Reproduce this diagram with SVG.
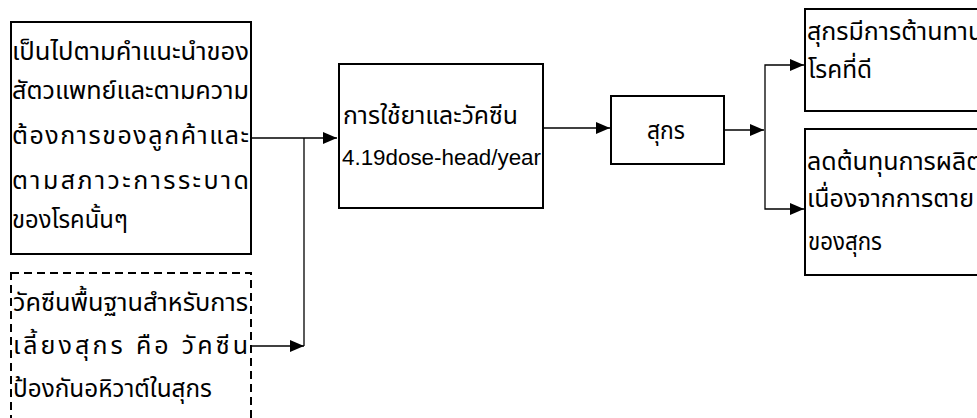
<svg xmlns="http://www.w3.org/2000/svg" width="977" height="418" viewBox="0 0 977 418">
<style>
.box{fill:#fff;stroke:#000;stroke-width:2}
.dash{fill:#fff;stroke:#000;stroke-width:2;stroke-dasharray:8 5}
.t{font-family:"Liberation Sans",Tahoma,"Noto Sans Thai",sans-serif;font-size:25px;fill:#000}
.n{font-family:"Liberation Sans",Arial,sans-serif;font-size:22px;fill:#000}
.c{fill:none;stroke:#000;stroke-width:1.3}
</style>
<defs>
<marker id="ah" markerUnits="userSpaceOnUse" markerWidth="14" markerHeight="12" refX="14" refY="6" orient="auto">
<path d="M0,0 L14,6 L0,12 z" fill="#000"/>
</marker>
</defs>
<rect width="977" height="418" fill="#fff"/>
<g id="connectors">
<path class="c" d="M251,138 H337" marker-end="url(#ah)"/>
<path class="c" d="M251,346 H304" marker-end="url(#ah)"/>
<path class="c" d="M304,346 V138"/>
<path class="c" d="M543,128 H610" marker-end="url(#ah)"/>
<path class="c" d="M724,130 H764" marker-end="url(#ah)"/>
<path class="c" d="M765,130 V65 H804" marker-end="url(#ah)"/>
<path class="c" d="M765,130 V209 H804" marker-end="url(#ah)"/>
</g>
<g id="n1">
<rect class="box" x="11" y="22" width="240" height="232"/>
<text class="t" x="12" y="60" textLength="237" lengthAdjust="spacingAndGlyphs">เป็นไปตามคำแนะนำของ</text>
<text class="t" x="12" y="99" textLength="237" lengthAdjust="spacingAndGlyphs">สัตวแพทย์และตามความ</text>
<text class="t" x="12" y="144" textLength="237" lengthAdjust="spacing">ต้องการของลูกค้าและ</text>
<text class="t" x="12" y="189" textLength="237" lengthAdjust="spacing">ตามสภาวะการระบาด</text>
<text class="t" x="12" y="228" textLength="116" lengthAdjust="spacingAndGlyphs">ของโรคนั้นๆ</text>
</g>
<g id="n2">
<rect class="dash" x="11" y="273" width="240" height="160"/>
<text class="t" x="13" y="311" textLength="235" lengthAdjust="spacingAndGlyphs">วัคซีนพื้นฐานสำหรับการ</text>
<text class="t" x="13" y="354" textLength="235" lengthAdjust="spacing">เลี้ยงสุกร คือ วัคซีน</text>
<text class="t" x="13" y="397" textLength="199" lengthAdjust="spacingAndGlyphs">ป้องกันอหิวาต์ในสุกร</text>
</g>
<g id="n3">
<rect class="box" x="339" y="64" width="204" height="144"/>
<text class="t" x="343" y="124" textLength="175" lengthAdjust="spacingAndGlyphs">การใช้ยาและวัคซีน</text>
<text class="n" x="342" y="165" textLength="199" lengthAdjust="spacingAndGlyphs">4.19dose-head/year</text>
</g>
<g id="n4">
<rect class="box" x="611" y="96" width="113" height="68"/>
<text class="t" x="647" y="139" textLength="38" lengthAdjust="spacingAndGlyphs">สุกร</text>
</g>
<g id="n5">
<rect class="box" x="805" y="9" width="200" height="102"/>
<text class="t" x="807" y="40">สุกรมีการต้านทาน</text>
<text class="t" x="808" y="78" textLength="64" lengthAdjust="spacingAndGlyphs">โรคที่ดี</text>
</g>
<g id="n6">
<rect class="box" x="805" y="129" width="200" height="146"/>
<text class="t" x="807" y="170">ลดต้นทุนการผลิต</text>
<text class="t" x="807" y="207">เนื่องจากการตาย</text>
<text class="t" x="808" y="250" textLength="74" lengthAdjust="spacingAndGlyphs">ของสุกร</text>
</g>
</svg>
